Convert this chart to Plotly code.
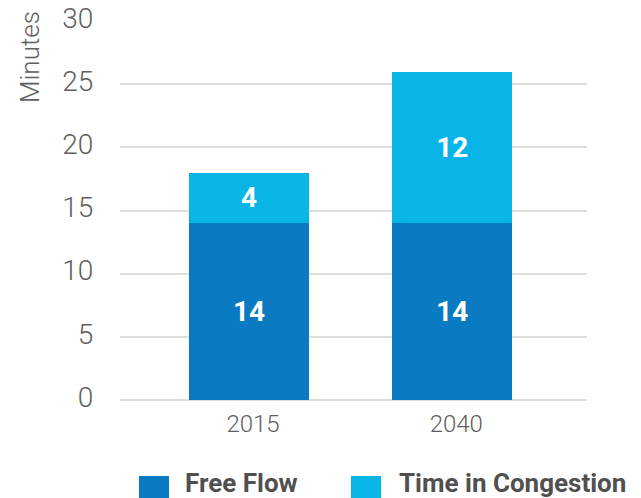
import plotly.graph_objects as go

# Average commute time, split into free-flow and congestion minutes
years = ["2015", "2040"]
free_flow = [14, 14]
congestion = [4, 12]
series_names = ["Free Flow", "Time in Congestion"]
y_ticks = [0, 5, 10, 15, 20, 25, 30]

DARK = "#0a7ac2"
LIGHT = "#08b5e6"
W, H = 641, 498
M_L, M_R, M_T, M_B = 120, 54, 21, 98
PW, PH = W - M_L - M_R, H - M_T - M_B


def px_x(x):
    return (x - M_L) / PW


def px_y(y):
    return (H - M_B - y) / PH


label_font = dict(family="Roboto", size=28, color="white", weight="bold")

fig = go.Figure()
for vals, name, color in [(free_flow, series_names[0], DARK),
                          (congestion, series_names[1], LIGHT)]:
    fig.add_trace(go.Bar(
        x=years, y=vals, name=name,
        marker=dict(color=color, line=dict(width=0)),
        width=0.59, texttemplate="%{y}", textposition="inside",
        insidetextanchor="middle", textangle=0, insidetextfont=label_font,
        showlegend=False,
    ))

# Legend: coloured squares with bold labels below the plot
legend_items = [
    (series_names[0], DARK, 139, 169, 183),
    (series_names[1], LIGHT, 351, 381, 397),
]
for name, color, x0, x1, tx in legend_items:
    fig.add_shape(type="rect", xref="paper", yref="paper",
                  x0=px_x(x0), x1=px_x(x1), y0=px_y(507), y1=px_y(476),
                  fillcolor=color, line_width=0, layer="above")
    fig.add_annotation(text=name, xref="paper", yref="paper",
                       x=px_x(tx), y=px_y(483), xanchor="left", yanchor="middle",
                       showarrow=False,
                       font=dict(family="Roboto", size=26, color="#505050", weight="bold"))

# Rotated axis caption near the top of the value axis
fig.add_annotation(text="Minutes", xref="paper", yref="paper",
                   x=px_x(30), y=px_y(57), textangle=-90,
                   xanchor="center", yanchor="middle", showarrow=False,
                   font=dict(family="Roboto", size=26, color="#606060", weight=300))

fig.update_layout(
    barmode="stack",
    width=W, height=H,
    margin=dict(l=M_L, r=M_R, t=M_T, b=M_B, pad=0, autoexpand=False),
    paper_bgcolor="white", plot_bgcolor="white",
    xaxis=dict(
        type="category", range=[-0.635, 1.663], automargin=False,
        showgrid=False, showline=False, zeroline=False,
        ticks="outside", ticklen=2, tickcolor="rgba(0,0,0,0)",
        ticklabelshift=4,
        tickfont=dict(family="Roboto", size=24, color="#606060", weight=300),
    ),
    yaxis=dict(
        range=[0, 30], tickvals=y_ticks, automargin=False,
        showgrid=True, gridcolor="#dedede", gridwidth=1.5,
        zeroline=True, zerolinecolor="#dedede", zerolinewidth=1.5,
        showline=False,
        ticks="outside", ticklen=20, tickcolor="rgba(0,0,0,0)",
        ticklabelshift=-3,
        tickfont=dict(family="Roboto", size=28, color="#606060", weight=300),
    ),
)

fig.write_html("out.html")
